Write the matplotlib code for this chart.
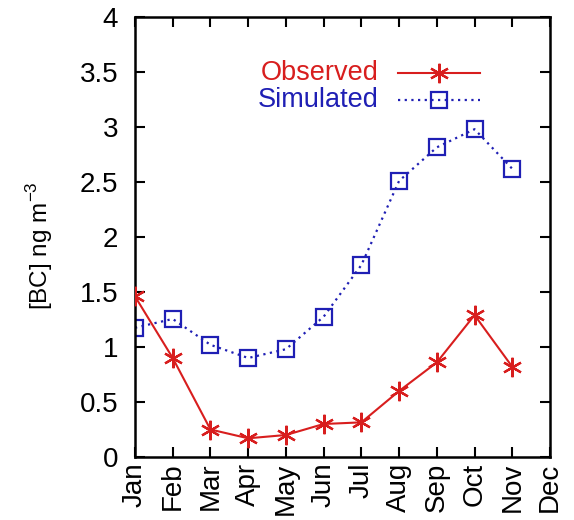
import matplotlib
matplotlib.use("Agg")
import matplotlib.pyplot as plt
from matplotlib.lines import Line2D

plt.rcParams['font.family'] = ['Liberation Sans', 'DejaVu Sans']
plt.rcParams['mathtext.fontset'] = 'custom'
plt.rcParams['mathtext.rm'] = 'Liberation Sans'

months = ["Jan", "Feb", "Mar", "Apr", "May", "Jun", "Jul", "Aug", "Sep", "Oct", "Nov", "Dec"]
observed = [1.46, 0.90, 0.25, 0.17, 0.20, 0.30, 0.315, 0.60, 0.86, 1.29, 0.82]
simulated = [1.175, 1.255, 1.02, 0.90, 0.98, 1.275, 1.745, 2.51, 2.815, 2.98, 2.62]
yticks = [0, 0.5, 1, 1.5, 2, 2.5, 3, 3.5, 4]
ytick_labels = ["0", "0.5", "1", "1.5", "2", "2.5", "3", "3.5", "4"]

red = "#d81e1e"
blue = "#1f1fb4"

fig = plt.figure(figsize=(5.74, 5.20), dpi=100)
ax = fig.add_axes([135 / 574, 1 - 457 / 520, (550 - 135) / 574, (457 - 17) / 520])

x_obs = list(range(len(observed)))
x_sim = list(range(len(simulated)))

ax.plot(x_obs, observed, color=red, lw=1.5, marker=(6, 2, 0), ms=14, mew=1.6, zorder=3)
ax.plot(x_sim, simulated, color=blue, lw=1.6, ls=(0, (1, 2)), marker='s', ms=11,
        mfc='none', mec=blue, mew=1.6, zorder=2)

ax.set_xlim(0, 11)
ax.set_ylim(0, 4)
ax.set_xticks(range(len(months)))
ax.set_xticklabels(months, rotation=90, fontsize=20)
ax.set_yticks(yticks)
ax.set_yticklabels(ytick_labels, fontsize=20)
ax.tick_params(direction='in', length=7, width=1.5, top=True, right=True)
ax.tick_params(axis='y', pad=12)
ax.tick_params(axis='x', pad=4)
for s in ax.spines.values():
    s.set_linewidth(1.8)

ax.set_ylabel("[BC] ng m$^{-3}$", fontsize=17.5)
ax.yaxis.set_label_coords(-80 / 415, 0.48)

# key drawn in axes coordinates
ky1 = 1 - (73 - 17) / 440
ky2 = 1 - (100 - 17) / 440
ax.text(0.587, ky1, "Observed", color=red, fontsize=19.5, ha='right', va='center',
        transform=ax.transAxes)
ax.text(0.587, ky2, "Simulated", color=blue, fontsize=19.5, ha='right', va='center',
        transform=ax.transAxes)
ax.add_line(Line2D([0.633, 0.831], [ky1, ky1], color=red, lw=1.5,
                   transform=ax.transAxes))
ax.add_line(Line2D([0.733], [ky1], color=red, marker=(6, 2, 0), ms=14, mew=1.6,
                   transform=ax.transAxes))
ax.add_line(Line2D([0.633, 0.831], [ky2, ky2], color=blue, lw=1.6, ls=(0, (1, 2)),
                   transform=ax.transAxes))
ax.add_line(Line2D([0.733], [ky2], color=blue, marker='s', ms=11, mfc='none', mew=1.6,
                   transform=ax.transAxes))

fig.savefig("out.png", dpi=100)
